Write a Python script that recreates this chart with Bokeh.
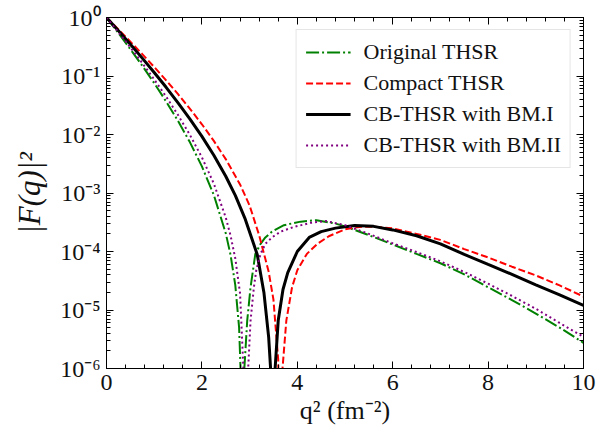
from bokeh.plotting import figure
from bokeh.models import FixedTicker, LinearAxis, LogAxis, CustomJSTickFormatter, Range1d
from bokeh.embed import file_html
from bokeh.resources import INLINE

# ---- data ----
q2_orig = [0, 0.25, 0.5, 0.75, 1.0, 1.25, 1.5, 1.75, 2.0, 2.25, 2.5, 2.6, 2.7, 2.78, 2.81, 2.85, 2.89,
           2.95, 3.02, 3.12, 3.23, 3.33, 3.47, 3.72, 4.07, 4.4, 4.8, 5.0, 5.5, 6.0, 6.5, 7.0, 7.5,
           8.0, 8.5, 9.0, 9.5, 10.0]
f_orig = [1.0, 0.541, 0.288, 0.1495, 0.0755, 0.0367, 0.017, 7.34e-3, 2.85e-3, 9.25e-4, 2.05e-4, 8.8e-5,
          2.66e-5, 5.0e-6, 1.0e-6, 1e-9, 1.0e-6,
          6.6e-6, 2.45e-5, 9.1e-5, 1.35e-4, 1.74e-4, 2.19e-4, 2.82e-4, 3.24e-4, 3.43e-4, 3.0e-4, 2.69e-4,
          1.9e-4, 1.32e-4, 9.1e-5, 6.3e-5, 4.07e-5, 2.45e-5, 1.48e-5, 8.7e-6, 5.0e-6, 2.75e-6]

q2_compact = [0, 0.25, 0.5, 0.75, 1.0, 1.25, 1.5, 1.75, 2.0, 2.25, 2.5, 2.8, 3.0, 3.2, 3.4, 3.5, 3.6,
              3.645, 3.69, 3.77, 3.89, 4.0, 4.2, 4.42, 4.66, 5.0, 5.3, 5.6, 6.0, 6.5, 7.0, 7.5, 8.0,
              8.5, 9.0, 9.5, 10.0]
f_compact = [1.0, 0.626, 0.387, 0.237, 0.1426, 0.0844, 0.0489, 0.0275, 0.01496, 7.77e-3, 3.8e-3,
             1.40e-3, 6.1e-4, 1.9e-4, 4.5e-5, 1.5e-5, 1.4e-6, 1e-9, 1.0e-6, 6.6e-6, 2.45e-5, 4.79e-5,
             9.1e-5, 1.35e-4, 1.82e-4, 2.4e-4, 2.63e-4, 2.66e-4, 2.48e-4, 2.0e-4, 1.58e-4, 1.1e-4,
             7.9e-5, 5.5e-5, 3.9e-5, 2.63e-5, 1.7e-5]

q2_bm1 = [0, 0.25, 0.5, 0.75, 1.0, 1.25, 1.5, 1.75, 2.0, 2.25, 2.5, 2.7, 2.9, 3.05, 3.16, 3.3, 3.4,
          3.44, 3.49, 3.535, 3.6, 3.7, 3.8, 4.0, 4.25, 4.5, 4.8, 5.2, 5.6, 6.0, 6.5, 7.0, 7.5, 8.0,
          8.5, 9.0, 9.5, 10.0]
f_bm1 = [1.0, 0.594, 0.348, 0.202, 0.115, 0.0641, 0.0348, 0.01835, 9.3e-3, 4.41e-3, 1.93e-3, 9.1e-4,
         3.73e-4, 1.64e-4, 8.9e-5, 2.0e-5, 3.4e-6, 1.0e-6, 1e-9, 1.0e-6, 6.6e-6, 2.24e-5, 4.37e-5,
         1.0e-4, 1.74e-4, 2.19e-4, 2.51e-4, 2.79e-4, 2.69e-4, 2.34e-4, 1.86e-4, 1.35e-4, 8.9e-5,
         6.0e-5, 4.07e-5, 2.69e-5, 1.82e-5, 1.2e-5]

q2_bm2 = [0, 0.25, 0.5, 0.75, 1.0, 1.25, 1.5, 1.75, 2.0, 2.25, 2.5, 2.6, 2.7, 2.8, 2.87, 2.92, 2.97,
          3.02, 3.09, 3.14, 3.23, 3.33, 3.47, 3.65, 3.93, 4.28, 4.6, 5.0, 5.5, 6.0, 6.5, 7.0, 7.5,
          8.0, 8.5, 9.0, 9.5, 10.0]
f_bm2 = [1.0, 0.561, 0.309, 0.1667, 0.0874, 0.0444, 0.0215, 9.8e-3, 4.06e-3, 1.45e-3, 3.81e-4, 1.88e-4,
         7.6e-5, 1.92e-5, 1.0e-6, 1e-9, 1.0e-6, 6.6e-6, 2.45e-5, 4.79e-5, 9.1e-5, 1.35e-4, 1.74e-4,
         2.19e-4, 2.63e-4, 3.09e-4, 3.31e-4, 2.82e-4, 2.0e-4, 1.38e-4, 9.8e-5, 6.8e-5, 4.47e-5,
         2.82e-5, 1.74e-5, 1.05e-5, 6.0e-6, 3.47e-6]

x_ticks = [0, 2, 4, 6, 8, 10]
x_minor = [0.4, 0.8, 1.2, 1.6, 2.4, 2.8, 3.2, 3.6, 4.4, 4.8, 5.2, 5.6, 6.4, 6.8, 7.2, 7.6,
           8.4, 8.8, 9.2, 9.6]
y_ticks = [1e-6, 1e-5, 1e-4, 1e-3, 1e-2, 1e-1, 1.0]
y_tick_labels = ["10⁻⁶", "10⁻⁵", "10⁻⁴", "10⁻³", "10⁻²", "10⁻¹", "10⁰"]
y_minor = [k * 10.0 ** e for e in range(-6, 0) for k in range(2, 10)]

labels = ["Original THSR", "Compact THSR", "CB-THSR with BM.I", "CB-THSR with BM.II"]

SERIF = "Liberation Serif"
TXT = "#111111"

p = figure(frame_width=477, frame_height=351, y_axis_type="log",
           x_range=Range1d(0, 10), y_range=Range1d(1e-6, 1.0),
           output_backend="svg", toolbar_location=None,
           min_border_left=106, min_border_top=17, min_border_right=24, min_border_bottom=40)
p.background_fill_color = "white"
p.border_fill_color = "white"
p.outline_line_color = "black"
p.outline_line_width = 1
p.xgrid.visible = False
p.ygrid.visible = False

p.line(q2_orig, f_orig, color="#008000", line_width=2, line_dash="13 3 2 3", legend_label=labels[0])
p.line(q2_compact, f_compact, color="#ff0000", line_width=2, line_dash="7 3", legend_label=labels[1])
p.line(q2_bm1, f_bm1, color="black", line_width=3, legend_label=labels[2])
p.line(q2_bm2, f_bm2, color="#800080", line_width=2, line_dash="2 3", legend_label=labels[3])

xt = FixedTicker(ticks=x_ticks, minor_ticks=x_minor)
yt = FixedTicker(ticks=y_ticks, minor_ticks=y_minor)

def style_axis(ax):
    ax.axis_line_color = "black"
    ax.major_tick_line_color = "black"
    ax.minor_tick_line_color = "black"
    ax.major_tick_in = 7
    ax.major_tick_out = 0
    ax.minor_tick_in = 4
    ax.minor_tick_out = 0
    ax.major_label_text_font = SERIF
    ax.major_label_text_font_size = "24px"
    ax.major_label_text_color = TXT

xa = p.xaxis[0]
xa.ticker = xt
style_axis(xa)
xa.major_label_standoff = 6
xa.axis_label = "q² (fm⁻²)"
xa.axis_label_text_font = SERIF
xa.axis_label_text_font_size = "26px"
xa.axis_label_text_font_style = "normal"
xa.axis_label_text_color = TXT
xa.axis_label_standoff = 3

ya = p.yaxis[0]
ya.ticker = yt
style_axis(ya)
ya.major_label_overrides = dict(zip(y_ticks, y_tick_labels))
ya.major_label_standoff = 6
ya.axis_label = "|F(q)|²"
ya.axis_label_text_font = SERIF
ya.axis_label_text_font_size = "31px"
ya.axis_label_text_font_style = "italic"
ya.axis_label_text_color = TXT
ya.axis_label_standoff = 10

blank = CustomJSTickFormatter(code="return ''")
top = LinearAxis(ticker=xt, formatter=blank)
style_axis(top)
top.major_label_text_font_size = "1px"
p.add_layout(top, "above")
right = LogAxis(ticker=yt, formatter=blank)
style_axis(right)
right.major_label_text_font_size = "1px"
p.add_layout(right, "right")

lg = p.legend[0]
lg.location = "top_right"
lg.margin = 12
lg.padding = 9
lg.spacing = 5
lg.glyph_width = 45
lg.glyph_height = 26
lg.label_height = 26
lg.label_standoff = 13
lg.label_text_font = SERIF
lg.label_text_font_size = "22px"
lg.label_text_color = TXT
lg.border_line_color = "#cccccc"
lg.border_line_width = 1
lg.background_fill_alpha = 0.8

open("out.html", "w").write(file_html(p, INLINE))
